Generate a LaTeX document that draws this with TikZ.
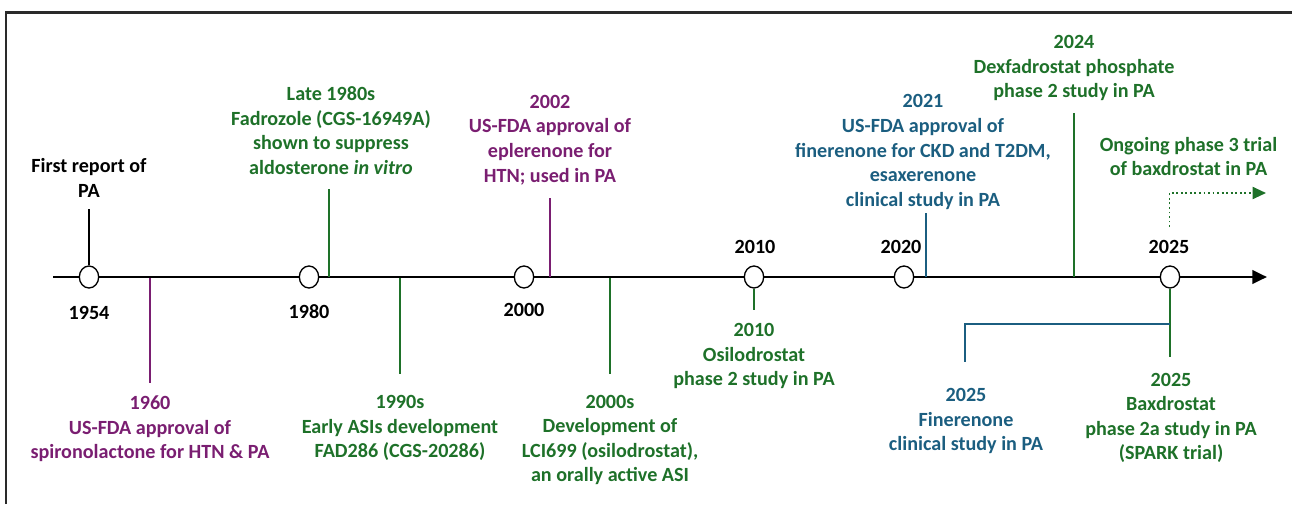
\documentclass[tikz,border=0pt]{standalone}
\usepackage{fontspec}
\setmainfont{Carlito}
\usetikzlibrary{arrows.meta,shapes.geometric}
\definecolor{cpur}{HTML}{7A1E71}
\definecolor{cblu}{HTML}{1B5E80}
\definecolor{cgrn}{HTML}{1E7129}
\definecolor{cframe}{HTML}{2A2A2A}
\begin{document}
\begin{tikzpicture}[x=0.75pt,y=-0.75pt,
  lbl/.style={font=\bfseries\fontsize{15.1}{18.4}\selectfont, align=center, inner sep=0pt},
  evline/.style={line width=1.4pt},
  axisline/.style={line width=2.1pt, -{Triangle[length=11pt,width=10pt]}},
  yrdot/.style={ellipse, draw=black, fill=white, line width=1pt, minimum width=14.5pt, minimum height=16.5pt, inner sep=0pt},
  framel/.style={draw=cframe, line width=1.9pt}
]
\useasboundingbox (0,0) rectangle (1292,504);
% frame
\coordinate (fbl) at (6,504);
\coordinate (ftl) at (6,12.5);
\coordinate (ftr) at (1292,12.5);
\draw[framel] (fbl) -- (ftl) -- (ftr);

% axis
\coordinate (axs) at (53,277);
\coordinate (axe) at (1267,277);
\draw[axisline] (axs) -- (axe);

% event lines (drawn under circles)
\coordinate (e1960a) at (150,278); \coordinate (e1960b) at (150,383);
\coordinate (e1980a) at (329,277); \coordinate (e1980b) at (329,189);
\coordinate (e1990a) at (400,278); \coordinate (e1990b) at (400,374);
\coordinate (e2002a) at (550,277); \coordinate (e2002b) at (550,198);
\coordinate (e2000sa) at (610,278); \coordinate (e2000sb) at (610,374);
\coordinate (e2021a) at (926,277); \coordinate (e2021b) at (926,213);
\coordinate (e2024a) at (1074,277); \coordinate (e2024b) at (1074,113);
\coordinate (e2010b) at (754,310);
\coordinate (e2025b) at (1170,357);
\coordinate (e1954b) at (89,209);
\coordinate (brR) at (1170,324);
\coordinate (brL) at (965,324);
\coordinate (brB) at (965,362);
\coordinate (dotA) at (1169.5,227);
\coordinate (dotB) at (1169.5,193);
\coordinate (dotC) at (1266,193);

\draw[evline, cpur] (e1960a) -- (e1960b);
\draw[evline, cgrn] (e1980a) -- (e1980b);
\draw[evline, cgrn] (e1990a) -- (e1990b);
\draw[evline, cpur] (e2002a) -- (e2002b);
\draw[evline, cgrn] (e2000sa) -- (e2000sb);
\draw[evline, cblu] (e2021a) -- (e2021b);
\draw[evline, cgrn] (e2024a) -- (e2024b);

% year circles
\node[yrdot] (c1954) at (89,277) {};
\node[yrdot] (c1980) at (309,277) {};
\node[yrdot] (c2000) at (524,277) {};
\node[yrdot] (c2010) at (754,277) {};
\node[yrdot] (c2020) at (904,277) {};
\node[yrdot] (c2025) at (1170,277) {};

\draw[evline, black] (c1954.north) -- (e1954b);
\draw[evline, cgrn] (c2010.south) -- (e2010b);
\draw[evline, cgrn] (c2025.south) -- (e2025b);
\draw[evline, cblu] (brR) -- (brL) -- (brB);
\draw[evline, cgrn, dotted, -{Triangle[length=10pt,width=9pt]}] (dotA) -- (dotB) -- (dotC);

% year labels
\node[lbl] (y1954) at (89,313) {1954};
\node[lbl] (y1980) at (309,312) {1980};
\node[lbl] (y2000) at (524,310) {2000};
\node[lbl] (y2010) at (755,247) {2010};
\node[lbl] (y2020) at (901,247) {2020};
\node[lbl] (y2025) at (1169,247) {2025};

% event texts
\node[lbl] (t1954) at (89,178) {First report of\\PA};
\node[lbl, cgrn] (t1980s) at (331,130.5) {Late 1980s\\Fadrozole (CGS-16949A)\\shown to suppress\\aldosterone \textit{in vitro}};
\node[lbl, cpur] (t2002) at (550,140) {2002\\US-FDA approval of\\eplerenone for\\HTN; used in PA};
\node[lbl, cblu] (t2021) at (923,152) {2021\\US-FDA approval of\\finerenone for CKD and T2DM,\\esaxerenone\\clinical study in PA};
\node[lbl, cgrn] (t2024) at (1074,68) {2024\\Dexfadrostat phosphate\\phase 2 study in PA};
\node[lbl, cgrn] (tong) at (1188.5,156.5) {Ongoing phase 3 trial\\of baxdrostat in PA};
\node[lbl, cpur] (t1960) at (150,429) {1960\\US-FDA approval of\\spironolactone for HTN \& PA};
\node[lbl, cgrn] (t1990s) at (400,428) {1990s\\Early ASIs development\\FAD286 (CGS-20286)};
\node[lbl, cgrn] (t2000s) at (610,440) {2000s\\Development of\\LCI699 (osilodrostat),\\an orally active ASI};
\node[lbl, cgrn] (t2010) at (754,356) {2010\\Osilodrostat\\phase 2 study in PA};
\node[lbl, cblu] (t2025f) at (966,421) {2025\\Finerenone\\clinical study in PA};
\node[lbl, cgrn] (t2025b) at (1171,418) {2025\\Baxdrostat\\phase 2a study in PA\\(SPARK trial)};
\end{tikzpicture}
\end{document}
